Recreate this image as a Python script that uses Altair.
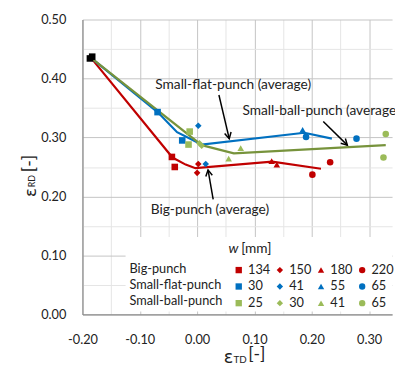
import math
import altair as alt
import pandas as pd

# ---------------- data ----------------
series_names = ["Big-punch", "Small-flat-punch", "Small-ball-punch"]
series_widths = [["134", "150", "180", "220"],
                 ["30", "41", "55", "65"],
                 ["25", "30", "41", "65"]]
shape_names = ["square", "diamond", "triangle-up", "circle"]
marker_colors = ["#C00000", "#0070C0", "#9BBB59"]
line_colors = ["#C00000", "#0070C0", "#77933C"]

# measured points (series, w, eps_TD, eps_RD)
pt_series = ["Big-punch"] * 8 + ["Small-flat-punch"] * 7 + ["Small-ball-punch"] * 8
pt_w = ["134", "134", "150", "150", "180", "180", "220", "220",
        "30", "30", "41", "41", "55", "65", "65",
        "25", "25", "30", "30", "41", "41", "65", "65"]
pt_x = [-0.044, -0.039, 0.002, 0.000, 0.130, 0.139, 0.201, 0.232,
        -0.069, -0.026, 0.002, 0.015, 0.184, 0.190, 0.278,
        -0.013, -0.015, 0.008, 0.004, 0.076, 0.055, 0.329, 0.325]
pt_y = [0.267, 0.250, 0.255, 0.240, 0.260, 0.254, 0.237, 0.258,
        0.343, 0.295, 0.320, 0.255, 0.313, 0.301, 0.298,
        0.310, 0.288, 0.286, 0.290, 0.282, 0.264, 0.306, 0.266]

# initial state (black)
start_x = [-0.187, -0.183]
start_y = [0.434, 0.437]

# average lines (vertices)
avg_series = ["Big-punch"] * 6 + ["Small-flat-punch"] * 6 + ["Small-ball-punch"] * 4
avg_x = [-0.185, -0.043, -0.020, -0.003, 0.131, 0.216,
         -0.185, -0.069, -0.035, 0.008, 0.187, 0.235,
         -0.185, 0.008, 0.064, 0.329]
avg_y = [0.435, 0.266, 0.254, 0.248, 0.259, 0.247,
         0.435, 0.343, 0.309, 0.288, 0.308, 0.298,
         0.435, 0.287, 0.273, 0.287]

# annotations
ann_text = ["Small-flat-punch (average)", "Small-ball-punch (average)", "Big-punch (average)"]
ann_x = [-0.073, 0.079, -0.081]
ann_y = [0.388, 0.345, 0.177]
arr_x1 = [0.038, 0.220, 0.028]
arr_y1 = [0.372, 0.327, 0.195]
arr_x2 = [0.056, 0.262, 0.019]
arr_y2 = [0.298, 0.287, 0.245]

x_ticks = [round(-0.20 + 0.05 * i, 2) for i in range(11)]
y_ticks = [round(0.05 * i, 2) for i in range(11)]

# ---------------- layout constants ----------------
W, H = 316, 301
XDOM = [-0.2, 0.34]
YDOM = [0.0, 0.5]
FONT = "Lato"
px_x = W / (XDOM[1] - XDOM[0])
px_y = H / (YDOM[1] - YDOM[0])

keys = [f"{s}:{w}" for s, ws in zip(series_names, series_widths) for w in ws]
key_colors = [c for c in marker_colors for _ in range(4)]
key_shapes = shape_names * 3

pts = pd.DataFrame({"series": pt_series, "w": pt_w, "x": pt_x, "y": pt_y})
pts["key"] = pts["series"] + ":" + pts["w"]
start = pd.DataFrame({"x": start_x, "y": start_y})
avg = pd.DataFrame({"series": avg_series, "x": avg_x, "y": avg_y})
ann = pd.DataFrame({"t": ann_text, "x": ann_x, "y": ann_y})
arr = pd.DataFrame({"x1": arr_x1, "y1": arr_y1, "x2": arr_x2, "y2": arr_y2})
arr["ang"] = [
    (math.degrees(math.atan2(-(b - a) * px_x, -(d - c) * px_y))) % 360
    for a, b, c, d in zip(arr_x1, arr_x2, arr_y1, arr_y2)
]

lab_expr = ("abs(round(datum.value*100)) % 10 == 0 ? "
            "replace(format(datum.value, '.2f'), '\u2212', '-') : ''")
grid_col = {"condition": {"test": "abs(round(datum.value*100)) % 10 == 0",
                          "value": "#c4c4c4"}, "value": "#e4e4e4"}

xscale = alt.Scale(domain=XDOM, nice=False, zero=False)
yscale = alt.Scale(domain=YDOM, nice=False, zero=False)
xaxis = alt.Axis(values=x_ticks, labelExpr=lab_expr, gridColor=grid_col, title=None,
                 ticks=False, domainColor="#8c8c8c", labelPadding=20, labelFontSize=13,
                 labelFont=FONT, labelColor="#222222", labelFlush=False)
yaxis = alt.Axis(values=y_ticks, labelExpr=lab_expr, gridColor=grid_col, title=None,
                 ticks=False, domainColor="#8c8c8c", labelPadding=17, labelFontSize=13,
                 labelFont=FONT, labelColor="#222222", labelFlush=False)

X = alt.X("x:Q", scale=xscale, axis=xaxis)
Y = alt.Y("y:Q", scale=yscale, axis=yaxis)

one = pd.DataFrame({"a": [0]})

legend_bg = alt.Chart(one).mark_rect(color="white").encode(
    x=alt.value(44), x2=alt.value(316), y=alt.value(222), y2=alt.value(298))

lines = []
for s, c in zip(series_names, line_colors):
    lines.append(
        alt.Chart(avg).transform_filter(alt.datum.series == s)
        .mark_line(color=c, strokeWidth=2.2, interpolate="linear")
        .encode(x=X, y=Y)
    )

points = alt.Chart(pts).mark_point(filled=True, opacity=1, size=45).encode(
    x=X, y=Y,
    color=alt.Color("key:N", scale=alt.Scale(domain=keys, range=key_colors),
                    legend=alt.Legend(orient="none", legendX=153, legendY=249, columns=4,
                                      direction="horizontal", title=None,
                                      labelExpr="split(datum.label, ':')[1]",
                                      labelFont=FONT, labelFontSize=13, labelColor="#222222",
                                      symbolSize=42, columnPadding=3, rowPadding=3,
                                      labelOffset=3, padding=0, symbolStrokeWidth=0)),
    shape=alt.Shape("key:N", scale=alt.Scale(domain=keys, range=key_shapes)),
)

start_pts = alt.Chart(start).mark_point(filled=True, shape="square", size=45,
                                         color="black", opacity=1).encode(x=X, y=Y)

arrows = alt.Chart(arr).mark_rule(color="black", strokeWidth=1.5).encode(
    x=alt.X("x1:Q", scale=xscale, axis=xaxis), y=alt.Y("y1:Q", scale=yscale, axis=yaxis),
    x2="x2:Q", y2="y2:Q")
heads = alt.Chart(arr).mark_point(shape="M-0.55,-1L0,0L0.55,-1", filled=False,
                                  stroke="black", strokeWidth=1.5, size=150, opacity=1).encode(
    x=alt.X("x2:Q", scale=xscale, axis=xaxis), y=alt.Y("y2:Q", scale=yscale, axis=yaxis),
    angle=alt.Angle("ang:Q", scale=None))

ann_text_layer = alt.Chart(ann).mark_text(align="left", baseline="middle", font=FONT,
                                          fontSize=14, color="#222222").encode(
    x=alt.X("x:Q", scale=xscale, axis=xaxis), y=alt.Y("y:Q", scale=yscale, axis=yaxis),
    text="t:N")


def txt(s, x, y, size, angle=0, align="center", style="normal", font=FONT):
    return alt.Chart(one).mark_text(text=s, font=font, fontSize=size, angle=angle,
                                    align=align, baseline="middle", color="#222222",
                                    fontStyle=style).encode(x=alt.value(x), y=alt.value(y))


titles = [
    txt("ε", 149, 346, 18, font="DejaVu Sans"), txt("TD", 161, 347.5, 10),
    txt("[-]", 178, 343, 18),
    txt("ε", -52.5, 176.5, 17, angle=270, font="DejaVu Sans"),
    txt("RD", -51, 165, 9, angle=270),
    txt("[-]", -53, 147, 18, angle=270),
    txt("w", 149, 234, 14, align="left", style="italic"),
    txt("[mm]", 162, 234, 14, align="left"),
]
row_labels = [txt(s, 48, y, 13, align="left") for s, y in zip(series_names, [255, 271, 287])]

chart = alt.layer(
    legend_bg, *lines, points, start_pts, arrows, heads, ann_text_layer, *titles, *row_labels
).properties(
    width=W, height=H,
    padding={"left": 76, "top": 8, "right": 3, "bottom": 54},
    autosize=alt.AutoSizeParams(type="none"),
).configure_view(stroke=None).configure_axis(domainWidth=1.2)

chart.save("out.html", embed_options={"renderer": "svg", "actions": False})
